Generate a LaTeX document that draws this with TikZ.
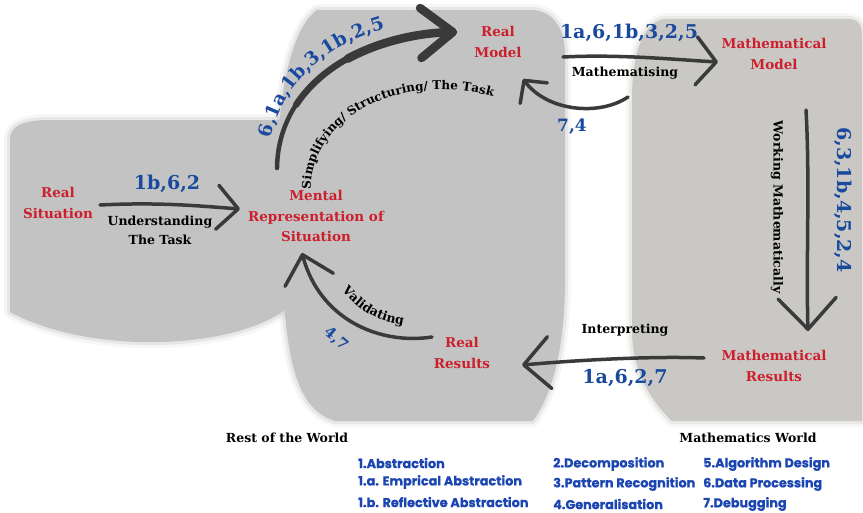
\documentclass[tikz,border=0pt]{standalone}
\usepackage{fontspec}
\setmainfont{DejaVu Serif}
\newfontfamily\legendfont{Poppins}[BoldFeatures={FakeBold=0.8}]
\usetikzlibrary{arrows.meta,decorations.text}
\definecolor{redlab}{HTML}{CC1F2B}
\definecolor{bluenum}{HTML}{1A4A9E}
\definecolor{legblue}{HTML}{1B45B0}
\definecolor{gA}{HTML}{C3C3C3}
\definecolor{gB}{HTML}{C9C8C4}
\definecolor{ink}{HTML}{3A3A3A}
\begin{document}
\begin{tikzpicture}[x=1pt,y=-1pt,
  lab/.style={text=redlab, font=\bfseries\fontsize{13.5}{20.5}\selectfont, align=center, inner sep=0pt},
  num/.style={text=bluenum, font=\bfseries\fontsize{19}{20}\selectfont, inner sep=0pt},
  act/.style={text=black, font=\bfseries\fontsize{12.5}{19}\selectfont, align=center, inner sep=0pt},
  world/.style={text=black, font=\bfseries\fontsize{12.5}{16}\selectfont, inner sep=0pt},
  leg/.style={text=legblue, font=\legendfont\bfseries\fontsize{12.8}{13}\selectfont, anchor=west, inner sep=0pt},
  brush/.style={draw=ink, line width=3.5pt, line cap=round},
  bigtip/.style={-{Straight Barb[round,length=32pt,width=50pt]}},
  soft/.style={draw=#1, line join=round}
]
\useasboundingbox (0,0) rectangle (863,512);

% ---------- gray regions ----------
\def\leftshape{(10,140) .. controls (10,126) and (22,121) .. (45,120) -- (285,120) -- (285,310) .. controls (230,350) and (90,355) .. (10,312) -- cycle}
\def\midshape{(317,10) -- (530,10) .. controls (553,10) and (565,28) .. (565,55) -- (565,280) .. controls (565,340) and (555,390) .. (533,421) -- (335,421) .. controls (300,410) and (285,370) .. (282,260) -- (278,150) .. controls (280,80) and (295,25) .. (317,10) -- cycle}
\def\rightshape{(663,19) -- (848,19) .. controls (858,19) and (862,25) .. (862,35) -- (862,421) -- (672,421) .. controls (650,400) and (632,370) .. (632,330) -- (632,100) .. controls (632,60) and (640,25) .. (663,19) -- cycle}
\foreach \shp/\col in {\leftshape/gA,\midshape/gA,\rightshape/gB}{
  \path[soft=\col, draw opacity=0.15, line width=12pt] \shp;
  \path[soft=\col, draw opacity=0.3, line width=6pt] \shp;
  \fill[\col] \shp;
}

% ---------- nodes ----------
\node[lab] (rs) at (58,203) {Real\\Situation};
\node[lab] (mr) at (316,216) {Mental\\Representation of\\Situation};
\node[lab] (rm) at (498,42) {Real\\Model};
\node[lab] (mm) at (774,54) {Mathematical\\Model};
\node[lab] (mres) at (774,366) {Mathematical\\Results};
\node[lab] (rr) at (462,353) {Real\\Results};

\node[num] (n1) at (167,184) {1b,6,2};
\node[act] (t1) at (160,230) {Understanding\\The Task};
\node[num] (n3) at (629,33) {1a,6,1b,3,2,5};
\node[act] (t3) at (625,73) {Mathematising};
\node[num, font=\bfseries\fontsize{17}{20}\selectfont] (n4) at (572,127) {7,4};
\node[act, rotate=-90] (t5) at (777,207) {Working Mathematically};
\node[num, rotate=-90] (n5) at (843,200) {6,3,1b,4,5,2,4};
\node[act] (t6) at (625,330) {Interpreting};
\node[num] (n6) at (625,378) {1a,6,2,7};
\node[num, font=\bfseries\fontsize{15}{20}\selectfont, rotate=-40] (n7) at (336,339) {4,7};

\node[world] (w1) at (287,438) {Rest of the World};
\node[world] (w2) at (748,438) {Mathematics World};

\node[leg] (l1) at (358,463) {1.Abstraction};
\node[leg] (l2) at (358,482) {1.a. Emprical Abstraction};
\node[leg] (l3) at (358,502) {1.b. Reflective Abstraction};
\node[leg] (l4) at (553,464) {2.Decomposition};
\node[leg] (l5) at (553,484) {3.Pattern Recognition};
\node[leg] (l6) at (553,504) {4.Generalisation};
\node[leg] (l7) at (703,464) {5.Algorithm Design};
\node[leg] (l8) at (703,484) {6.Data Processing};
\node[leg] (l9) at (703,504) {7.Debugging};

% ---------- arrow end points ----------
\coordinate (a1s) at (100,205);
\coordinate (a1e) at (240,209);
\coordinate (a2s) at (277,168);
\coordinate (a2m) at (296.1,104.8);
\coordinate (a2n) at (347.7,58.7);
\coordinate (a2e) at (457,32);
\coordinate (a3s) at (563,57);
\coordinate (a3e) at (718,62);
\coordinate (a4s) at (628,97);
\coordinate (a4e) at (523,79);
\coordinate (a5s) at (806,110);
\coordinate (a5e) at (808,331);
\coordinate (a6s) at (704,358);
\coordinate (a6e) at (522,365);
\coordinate (a7s) at (432,337);
\coordinate (a7e) at (302,253);

% ---------- arrows ----------
\draw[brush, -{Straight Barb[round,length=21pt,width=44pt]}] (a1s) .. controls (160,202) and (200,206) .. (a1e);
% tapered big arc: three overlapping strokes
\draw[brush, line width=4.5pt, bigtip] (a2s) .. controls (278,90) and (350,35) .. (a2e);
\draw[brush, line width=6.5pt, bigtip] (a2m) .. controls (324.4,61.7) and (382.1,34.1) .. (a2e);
\draw[brush, line width=8.5pt, bigtip] (a2n) .. controls (377,42.7) and (414.2,33.2) .. (a2e);
\draw[brush, -{Straight Barb[round,length=20pt,width=48pt]}] (a3s) .. controls (620,54) and (680,60) .. (a3e);
\draw[brush, -{Straight Barb[round,length=16pt,width=34pt]}] (a4s) .. controls (600,116) and (548,112) .. (a4e);
\draw[brush, -{Straight Barb[round,length=31pt,width=58pt]}] (a5s) .. controls (810,180) and (806,260) .. (a5e);
\draw[brush, -{Straight Barb[round,length=26pt,width=52pt]}] (a6s) .. controls (650,356) and (580,360) .. (a6e);
\draw[brush, -{Straight Barb[round,length=26pt,width=50pt]}] (a7s) .. controls (380,345) and (320,320) .. (a7e);

% ---------- curved texts ----------
\path[decorate, decoration={text along path, text color=bluenum, text align={left indent=28pt},
  text={|\bfseries\fontsize{18.5}{17}\selectfont|6,1a,1b,3,1b,2,5}}]
  (268,166) .. controls (269,80) and (343,21) .. (455,18);
\path[decorate, decoration={text along path, text color=black, text align={left indent=6pt},
  text={|\bfseries\fontsize{12}{12}\selectfont|Simplifying/ Structuring/ The Task}}]
  (311,195) .. controls (305,122) and (400,63) .. (510,102);
\path[decorate, decoration={text along path, text color=black, text align={left indent=0pt},
  text={|\bfseries\fontsize{12.5}{12}\selectfont|Validating}}]
  (342,290) .. controls (363,316) and (386,326) .. (425,326);
\end{tikzpicture}
\end{document}
